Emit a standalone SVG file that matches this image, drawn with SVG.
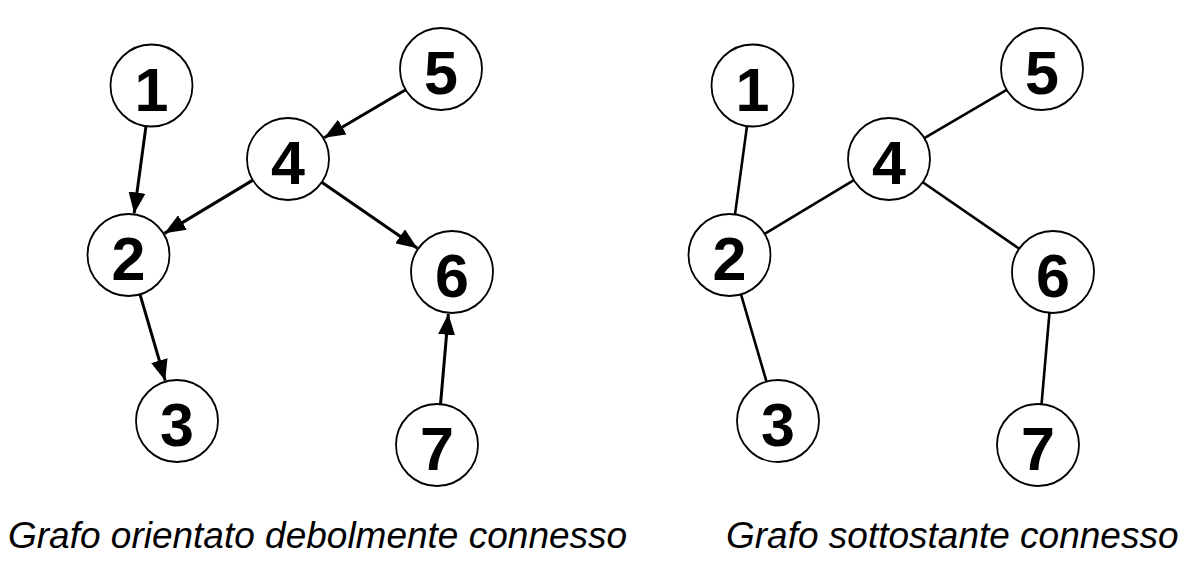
<svg xmlns="http://www.w3.org/2000/svg" width="1198" height="566" viewBox="0 0 1198 566">
<style>
.n circle{fill:#fff;stroke:#000;stroke-width:1.8}
.n text{font-family:"Liberation Sans",Arial,sans-serif;font-weight:bold;font-size:61px;text-anchor:middle;fill:#000}
.a{stroke:#000;stroke-width:3;fill:none;marker-end:url(#ah)}
.u{stroke:#000;stroke-width:2.6;fill:none}
.cap{font-family:"Liberation Sans",Arial,sans-serif;font-style:italic;font-size:37px;fill:#000}
</style>
<defs>
<marker id="ah" markerUnits="userSpaceOnUse" markerWidth="21" markerHeight="17" refX="21" refY="8.5" orient="auto">
<path d="M0,0 L21,8.5 L0,17 z" fill="#000"/>
</marker>
</defs>
<rect width="1198" height="566" fill="#fff"/>
<g id="connectors">
<line class="a" x1="145.99" y1="126.13" x2="134.15" y2="213.38"/>
<line class="a" x1="405.66" y1="89.79" x2="324.2" y2="137.7"/>
<line class="a" x1="252.88" y1="180.14" x2="164.48" y2="233.34"/>
<line class="a" x1="321.75" y1="182.26" x2="417.42" y2="248.17"/>
<line class="a" x1="140" y1="294.36" x2="165.22" y2="380.68"/>
<line class="a" x1="440.54" y1="404.15" x2="448.37" y2="313.84"/>
<line class="u" x1="746.99" y1="126.13" x2="735.01" y2="214.37"/>
<line class="u" x1="1006.66" y1="89.79" x2="924.34" y2="138.21"/>
<line class="u" x1="853.88" y1="180.14" x2="764.62" y2="233.86"/>
<line class="u" x1="922.75" y1="182.26" x2="1019.25" y2="248.74"/>
<line class="u" x1="741" y1="294.36" x2="766.5" y2="381.64"/>
<line class="u" x1="1041.54" y1="404.15" x2="1049.46" y2="312.85"/>
</g>
<g id="L1" class="n"><circle cx="151.5" cy="85.5" r="41"/><text x="151.5" y="110.5">1</text></g>
<g id="L2" class="n"><circle cx="128.5" cy="255" r="41"/><text x="128.5" y="280">2</text></g>
<g id="L3" class="n"><circle cx="177" cy="421" r="41"/><text x="177" y="446">3</text></g>
<g id="L4" class="n"><circle cx="288" cy="159" r="41"/><text x="288" y="184">4</text></g>
<g id="L5" class="n"><circle cx="441" cy="69" r="41"/><text x="441" y="94">5</text></g>
<g id="L6" class="n"><circle cx="452" cy="272" r="41"/><text x="452" y="297">6</text></g>
<g id="L7" class="n"><circle cx="437" cy="445" r="41"/><text x="437" y="470">7</text></g>
<g id="R1" class="n"><circle cx="752.5" cy="85.5" r="41"/><text x="752.5" y="110.5">1</text></g>
<g id="R2" class="n"><circle cx="729.5" cy="255" r="41"/><text x="729.5" y="280">2</text></g>
<g id="R3" class="n"><circle cx="778" cy="421" r="41"/><text x="778" y="446">3</text></g>
<g id="R4" class="n"><circle cx="889" cy="159" r="41"/><text x="889" y="184">4</text></g>
<g id="R5" class="n"><circle cx="1042" cy="69" r="41"/><text x="1042" y="94">5</text></g>
<g id="R6" class="n"><circle cx="1053" cy="272" r="41"/><text x="1053" y="297">6</text></g>
<g id="R7" class="n"><circle cx="1038" cy="445" r="41"/><text x="1038" y="470">7</text></g>
<g id="captions">
<text class="cap" x="8" y="548">Grafo orientato debolmente connesso</text>
<text class="cap" x="726" y="548">Grafo sottostante connesso</text>
</g>
</svg>
